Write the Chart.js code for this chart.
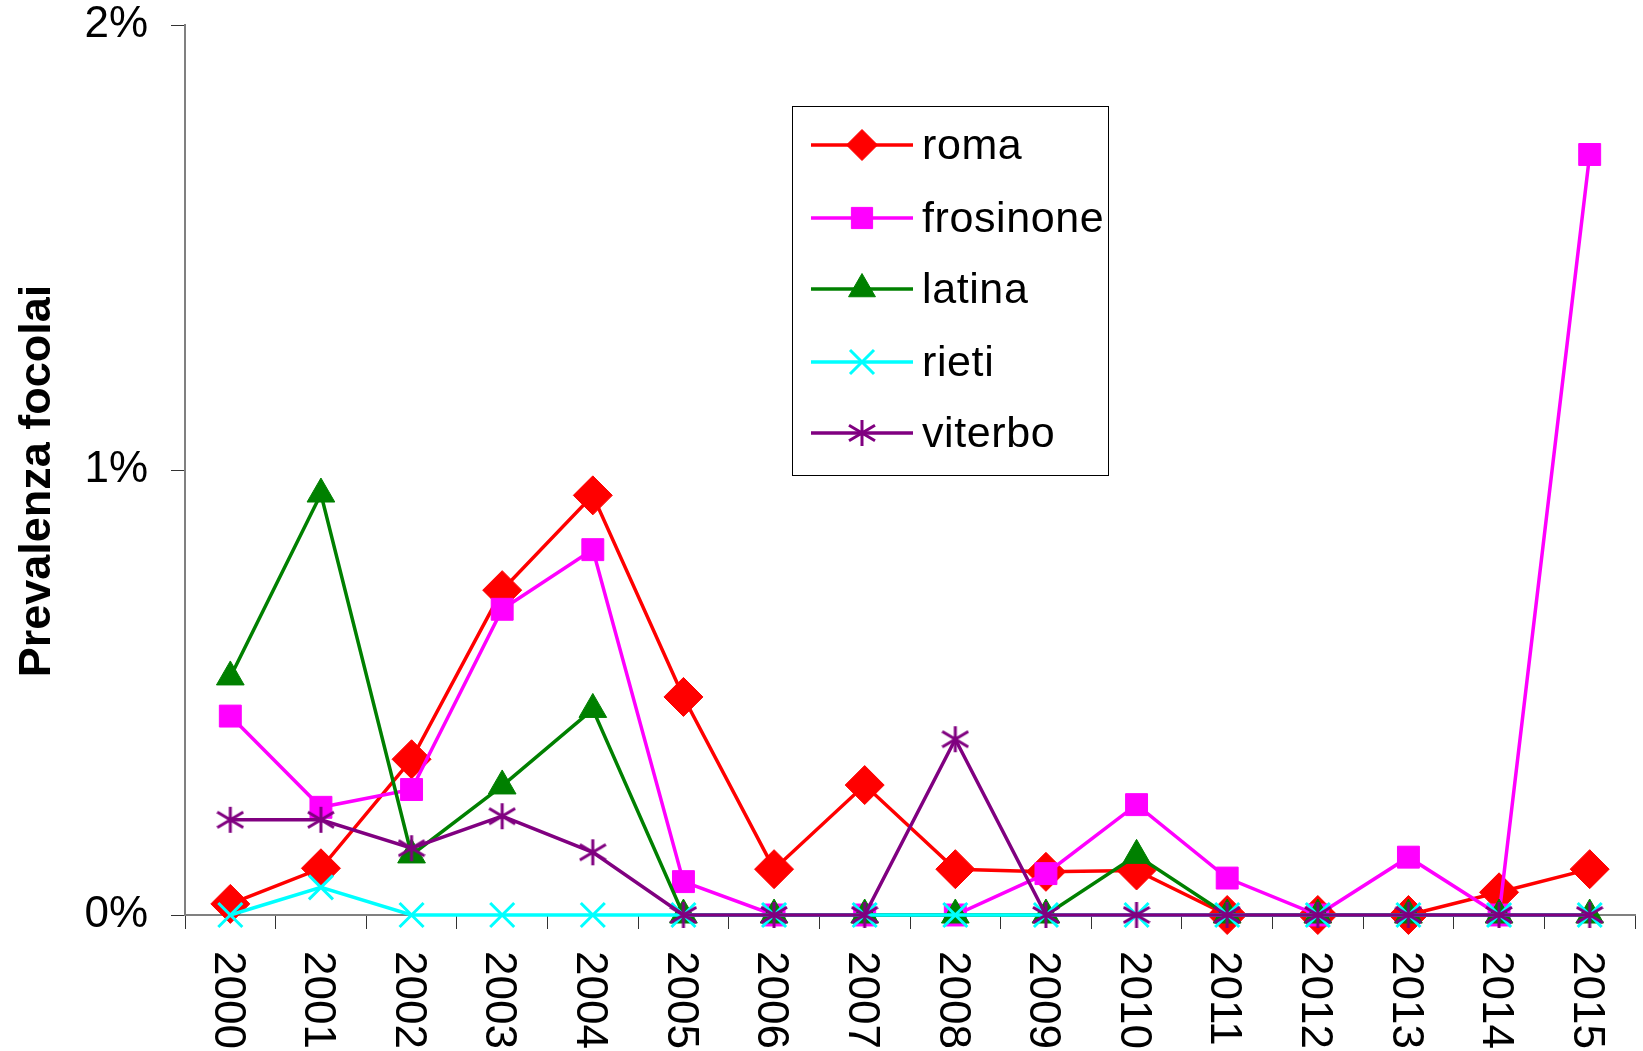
<!DOCTYPE html>
<html>
<head>
<meta charset="utf-8">
<script src="https://cdn.jsdelivr.net/npm/chart.js@4.4.1/dist/chart.umd.min.js"></script>
<style>
  html, body { margin: 0; padding: 0; background: #fff; }
  #wrap { width: 1643px; height: 1051px; position: relative; }
</style>
</head>
<body>
<div id="wrap"><canvas id="c" width="1643" height="1051"></canvas></div>
<script>
const years = ['2000','2001','2002','2003','2004','2005','2006','2007','2008','2009','2010','2011','2012','2013','2014','2015'];
const roma      = [0.025, 0.105, 0.35, 0.73, 0.943, 0.49, 0.103, 0.292, 0.103, 0.097, 0.1, 0, 0, 0, 0.051, 0.103];
const frosinone = [0.447, 0.242, 0.282, 0.687, 0.821, 0.075, 0, 0, 0, 0.093, 0.248, 0.083, 0, 0.13, 0, 1.709];
const latina    = [0.535, 0.946, 0.135, 0.29, 0.462, 0, 0, 0, 0, 0, 0.134, 0, 0, 0, 0, 0];
const rieti     = [0, 0.062, 0, 0, 0, 0, 0, 0, 0, 0, 0, 0, 0, 0, 0, 0];
const viterbo   = [0.214, 0.214, 0.15, 0.222, 0.141, 0, 0, 0, 0.395, 0, 0, 0, 0, 0, 0, 0];
const seriesNames = ['roma', 'frosinone', 'latina', 'rieti', 'viterbo'];
const yTickValues = [0, 1, 2];
const yTitle = 'Prevalenza focolai';

const FONT = '"Liberation Sans", Arial, sans-serif';

// custom asterisk marker for viterbo
function makeStar(color, size) {
  const c = document.createElement('canvas');
  c.width = size; c.height = size;
  const g = c.getContext('2d');
  const m = size / 2;
  g.strokeStyle = color; g.lineWidth = 3; g.lineCap = 'butt';
  g.beginPath();
  g.moveTo(m, 1); g.lineTo(m, size - 1);
  g.moveTo(1, m - size * 0.28); g.lineTo(size - 1, m + size * 0.28);
  g.moveTo(1, m + size * 0.28); g.lineTo(size - 1, m - size * 0.28);
  g.stroke();
  return c;
}
const starImg = makeStar('#800080', 28);

const styles = [
  { color: '#FF0000', pointStyle: 'rectRot', radius: 19.5, legendRadius: 15.5, bw: 1 },
  { color: '#FF00FF', pointStyle: 'rect', radius: 15.5, legendRadius: 15, bw: 1 },
  { color: '#008000', pointStyle: 'triangle', radius: 16, legendRadius: 15.5, bw: 1 },
  { color: '#00FFFF', pointStyle: 'crossRot', radius: 17, legendRadius: 17, bw: 3 },
  { color: '#800080', pointStyle: starImg, radius: 14, legendRadius: 14, bw: 3 }
];
const values = [roma, frosinone, latina, rieti, viterbo];

const datasets = seriesNames.map((name, i) => ({
  label: name,
  data: values[i],
  borderColor: styles[i].color,
  backgroundColor: styles[i].color,
  pointBackgroundColor: styles[i].color,
  pointBorderColor: styles[i].color,
  pointBorderWidth: styles[i].bw,
  pointStyle: styles[i].pointStyle,
  pointRadius: styles[i].radius,
  borderWidth: 3.5,
  tension: 0,
  fill: false,
  clip: false,
  order: 5 - i
}));

const customDraw = {
  id: 'customDraw',
  afterDraw(chart) {
    const ctx = chart.ctx;
    const xs = chart.scales.x;
    const area = chart.chartArea;
    ctx.save();
    // rotated x labels (reading top to bottom)
    ctx.font = '44px ' + FONT;
    ctx.fillStyle = '#000';
    ctx.textAlign = 'left';
    ctx.textBaseline = 'alphabetic';
    years.forEach((y, i) => {
      const px = xs.getPixelForValue(i);
      ctx.save();
      ctx.translate(px, area.bottom + 36);
      ctx.rotate(Math.PI / 2);
      ctx.fillText(y, 0, 15.7);
      ctx.restore();
    });
    // y title
    ctx.save();
    ctx.font = 'bold 45px ' + FONT;
    ctx.translate(0, 481);
    ctx.rotate(-Math.PI / 2);
    ctx.textAlign = 'center';
    ctx.fillText(yTitle, 0, 50);
    ctx.restore();
    // legend
    const bx = 792, by = 106, bw = 316, bh = 369;
    ctx.fillStyle = '#fff';
    ctx.fillRect(bx, by, bw, bh);
    ctx.strokeStyle = '#000';
    ctx.lineWidth = 1;
    ctx.strokeRect(bx + 0.5, by + 0.5, bw, bh);
    const rows = [145, 218, 289, 362, 433];
    chart.data.datasets.forEach((ds, i) => {
      const ry = rows[i];
      ctx.strokeStyle = ds.borderColor;
      ctx.lineWidth = 3.5;
      ctx.beginPath();
      ctx.moveTo(811, ry); ctx.lineTo(913, ry);
      ctx.stroke();
      ctx.fillStyle = ds.pointBackgroundColor;
      ctx.strokeStyle = ds.pointBorderColor;
      ctx.lineWidth = ds.pointBorderWidth;
      Chart.helpers.drawPoint(ctx, {
        pointStyle: ds.pointStyle,
        radius: styles[i].legendRadius,
        borderWidth: ds.pointBorderWidth,
        rotation: 0
      }, 862, ry);
      ctx.fillStyle = '#000';
      ctx.font = '43px ' + FONT;
      ctx.textAlign = 'left';
      ctx.textBaseline = 'alphabetic';
      try { ctx.letterSpacing = '0.6px'; } catch (e) {}
      ctx.fillText(ds.label, 922, ry + 13.5);
      try { ctx.letterSpacing = '0px'; } catch (e) {}
    });
    ctx.restore();
  }
};

new Chart(document.getElementById('c'), {
  type: 'line',
  data: { labels: years, datasets },
  options: {
    responsive: false,
    animation: false,
    events: [],
    layout: { autoPadding: false, padding: { left: 0, right: 8, top: 25, bottom: 0 } },
    plugins: { legend: { display: false }, tooltip: { enabled: false }, title: { display: false } },
    scales: {
      x: {
        type: 'category',
        offset: true,
        grid: { display: true, offset: true, drawOnChartArea: false, drawTicks: true, tickLength: 14, color: '#333', lineWidth: 1 },
        border: { display: true, color: '#808080', width: 2 },
        ticks: { display: false },
        afterFit(s) { s.height = 136; s.paddingLeft = 0; s.paddingRight = 0; }
      },
      y: {
        min: 0,
        max: 2,
        afterBuildTicks(s) { s.ticks = yTickValues.map(v => ({ value: v })); },
        grid: { display: true, drawOnChartArea: false, drawTicks: true, tickLength: 14, color: '#333', lineWidth: 1 },
        border: { display: true, color: '#808080', width: 2 },
        ticks: {
          padding: 23,
          color: '#000',
          font: { family: FONT, size: 44, lineHeight: 1.1 },
          callback: v => v + '%'
        },
        afterFit(s) { s.width = 185; s.paddingTop = 0; s.paddingBottom = 0; }
      }
    }
  },
  plugins: [customDraw]
});
</script>
</body>
</html>
